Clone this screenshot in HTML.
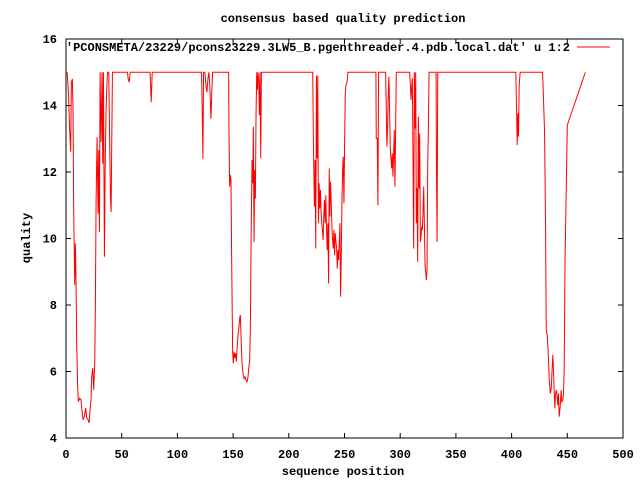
<!DOCTYPE html>
<html><head><meta charset="utf-8"><style>
html,body{margin:0;padding:0;background:#fff;}
svg{display:block;}
text{font-family:"Liberation Mono","DejaVu Sans Mono",monospace;font-size:12px;font-weight:bold;fill:#000;}
</style></head><body>
<svg id="chart" width="640" height="480" viewBox="0 0 640 480">
<rect x="0" y="0" width="640" height="480" fill="#fff"/>
<g id="axes"></g>
<polyline id="series" fill="none" stroke="#ff0000" stroke-width="1"/>
<rect x="66" y="39" width="557" height="399" fill="none" stroke="#000" stroke-width="1"/>
<text x="343" y="22" text-anchor="middle">consensus based quality prediction</text>
<text x="343" y="475" text-anchor="middle">sequence position</text>
<text x="0" y="0" text-anchor="middle" transform="translate(30,238) rotate(-90)">quality</text>
<g>
<text x="570" y="51" text-anchor="end">'PCONSMETA/23229/pcons23229.3LW5_B.pgenthreader.4.pdb.local.dat' u 1:2</text>
<line x1="577" y1="47" x2="610" y2="47" stroke="#ff0000" stroke-width="1"/>
</g>
</svg>
<script>
const xTicks = [0,50,100,150,200,250,300,350,400,450,500];
const yTicks = [4,6,8,10,12,14,16];
const xs = [1,2.1,3.3,4.2,4.8,5.7,6.3,6.9,7.8,8.4,9.0,9.6,10.5,11.1,12.3,13.5,14.1,15.3,16.5,17.7,18.6,19.8,20.7,21.6,22.5,23.1,24.0,24.9,25.8,26.4,27.0,27.9,28.8,29.4,30.0,30.6,31.5,32.4,33.0,33.6,34.5,35.1,36.0,36.6,37.2,38.4,39.0,39.9,40.5,41.1,41.7,55.2,55.8,56.7,57.6,75.5,76.5,77.4,121.7,122.3,122.9,123.5,124.7,125.6,126.5,127.4,128.3,129.2,130.1,131.0,131.6,
146.0,146.3,146.9,147.5,148.1,148.7,149.6,150.2,150.8,151.7,152.3,152.9,153.8,154.4,155.3,155.9,156.5,157.4,158.0,158.9,159.8,160.7,161.6,162.5,163.4,164.0,164.9,165.5,166.1,167.0,167.6,168.2,168.8,169.4,170.0,170.6,171.2,171.8,172.4,173.0,173.6,174.2,174.8,175.4,
221.5,222.1,223.0,223.6,224.2,224.8,225.4,226.0,226.6,227.2,227.8,228.4,229.0,229.6,230.2,230.8,231.4,232.0,232.6,233.2,233.8,234.5,235.1,235.7,236.3,236.9,237.5,238.1,238.7,239.3,239.9,240.5,241.1,241.7,242.3,242.9,243.5,244.1,244.7,245.3,245.9,246.5,247.1,247.7,248.3,248.9,249.5,250.1,250.7,251.3,252.4,253.0,
278.2,278.5,279.4,280.0,280.6,286.9,287.5,288.1,288.7,289.3,289.9,290.5,291.1,291.7,292.3,292.9,293.5,294.1,294.7,295.3,296.5,
308.5,309.1,309.7,310.3,310.9,311.5,312.1,312.7,313.3,313.9,314.5,315.1,315.7,316.3,316.9,317.5,318.1,318.7,319.3,319.9,320.5,321.1,321.7,322.3,322.9,323.5,324.1,324.7,325.3,325.9,
332.2,332.5,333.1,333.7,403.8,404.4,405.0,405.6,406.2,406.8,407.7,
427.8,428.7,429.6,430.5,431.1,432.0,432.9,433.8,434.7,435.6,436.2,437.0,437.6,438.2,438.8,439.4,440.3,440.9,441.5,442.1,442.7,443.6,444.5,445.1,446.0,446.6,447.2,448.0,450.0,466.2];
const ys = [15,14.44,13.26,12.61,14.7,14.8,13.9,10.86,8.6,9.85,8.75,6.85,5.49,5.09,5.2,5.15,4.9,4.55,4.65,4.9,4.6,4.55,4.45,4.85,5.15,5.85,6.1,5.45,6.25,8.1,11.1,13.05,10.75,12.65,10.2,15,12.9,15,12.25,15,9.45,12.0,13.9,14.5,15,15,13.35,11.25,10.8,13.0,15,15,14.8,14.7,15,15,14.1,15,15,13.8,12.4,15,15,14.6,14.4,14.8,15,14.5,13.6,14.5,15,
15,13.29,11.56,11.91,11.76,9.4,6.6,6.24,6.6,6.4,6.55,6.3,6.8,7.1,7.35,7.6,7.7,6.8,6.24,5.94,5.79,5.84,5.74,5.69,5.84,6.09,6.35,7.35,9.85,12.36,11.66,13.36,9.9,12.06,11.2,13.76,15,14.47,15,14.77,13.71,15,12.41,15,
15,12.86,10.96,12.36,9.7,14.9,12.41,14.9,10.46,11.66,10.9,11.46,10.8,10.46,10.26,9.95,10.66,11.16,10.46,11.3,10.36,9.65,10.46,8.65,12.11,10.66,11.71,11.06,10.36,9.95,9.7,10.26,9.5,10.16,9.9,9.75,9.1,9.65,9.35,9.9,10.46,8.25,9.45,11.1,12.06,12.46,11.06,12.86,14.37,14.62,14.72,15,
15,13.01,13.01,11.0,15,15,13.9,12.76,13.36,14.42,14.87,13.81,12.71,12.41,12.11,12.56,11.86,12.56,13.26,11.56,15,
15,14.62,14.17,14.57,14.82,12.36,9.7,15,13.31,15,10.46,11.51,9.3,13.66,11.51,13.16,9.9,10.06,10.36,10.26,10.8,11.56,10.41,9.2,9.0,8.75,9.05,12.16,13.26,15,
15,12.46,9.9,15,15,13.96,12.81,13.76,13.06,14.62,15,
15,14.12,13.21,10.26,7.25,7.1,6.55,5.74,5.34,5.49,5.94,6.5,6.05,5.44,4.89,5.34,5.44,5.24,4.99,5.34,4.64,4.94,5.44,5.09,5.14,5.34,6.09,9.4,13.41,15,15];

const L=66,R=623,T=39,B=438;
const xMin=0,xMax=500,yMin=4,yMax=16;
function sx(v){return L+(v-xMin)/(xMax-xMin)*(R-L);}
function sy(v){return B-(v-yMin)/(yMax-yMin)*(B-T);}
const NS="http://www.w3.org/2000/svg";
const axes=document.getElementById('axes');
xTicks.forEach(function(t){
  const x=sx(t);
  [[B,B-5],[T,T+5]].forEach(function(p){
    const ln=document.createElementNS(NS,'line');
    ln.setAttribute('x1',x);ln.setAttribute('x2',x);ln.setAttribute('y1',p[0]);ln.setAttribute('y2',p[1]);
    ln.setAttribute('stroke','#000');
    
    
    axes.appendChild(ln);
  });
  const tx=document.createElementNS(NS,'text');
  tx.setAttribute('x',x);tx.setAttribute('y',B+20);tx.setAttribute('text-anchor','middle');
  tx.textContent=t;
  
  
  axes.appendChild(tx);
});
yTicks.forEach(function(t){
  const y=sy(t);
  [[L,L+5],[R,R-5]].forEach(function(p){
    const ln=document.createElementNS(NS,'line');
    ln.setAttribute('x1',p[0]);ln.setAttribute('x2',p[1]);ln.setAttribute('y1',y);ln.setAttribute('y2',y);
    ln.setAttribute('stroke','#000');
    
    
    axes.appendChild(ln);
  });
  const tx=document.createElementNS(NS,'text');
  tx.setAttribute('x',L-9);tx.setAttribute('y',y+4);tx.setAttribute('text-anchor','end');
  tx.textContent=t;
  
  
  axes.appendChild(tx);
});
const pts=[];
for(let i=0;i<xs.length&&i<ys.length;i++){pts.push(sx(xs[i]).toFixed(2)+','+sy(ys[i]).toFixed(2));}
document.getElementById('series').setAttribute('points',pts.join(' '));
</script>
</body></html>
